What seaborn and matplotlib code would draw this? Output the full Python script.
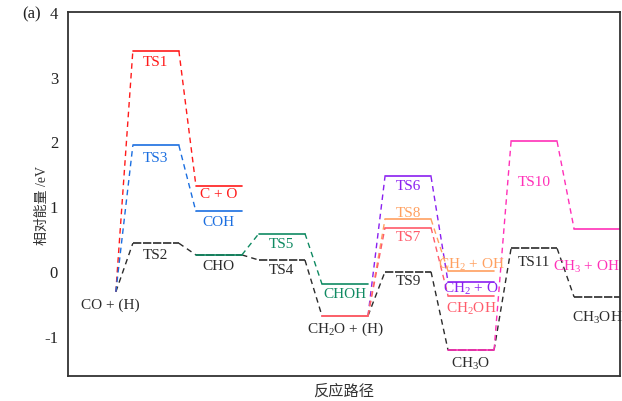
import pandas as pd
import matplotlib
matplotlib.use("Agg")
import matplotlib.pyplot as plt
import seaborn as sns

# ---------------- datos ----------------
# estados: nombre, paso de reacción (posición en el eje x), energía relativa (eV)
estados = ["CO + (H)", "TS1", "TS2", "TS3", "C + O", "COH", "CHO", "TS4", "TS5",
           "CHOH", "CH$_2$O + (H)", "TS6", "TS7", "TS8", "TS9",
           "CH$_2$ + OH", "CH$_2$ + O", "CH$_2$OH", "CH$_3$O",
           "TS10", "TS11", "CH$_3$ + OH", "CH$_3$OH"]
pasos = [0, 1, 1, 1, 2, 2, 2, 3, 3,
         4, 4, 5, 5, 5, 5,
         6, 6, 6, 6,
         7, 7, 8, 8]
energias = [-0.32, 3.40, 0.43, 1.94, 1.32, 0.92, 0.25, 0.17, 0.58,
            -0.20, -0.69, 1.46, 0.67, 0.80, -0.01,
            0.00, -0.17, -0.38, -1.22,
            2.00, 0.35, 0.65, -0.40]

# rutas de reacción
ruta_negra = ["CO + (H)", "TS2", "CHO", "TS4", "CH$_2$O + (H)", "TS9", "CH$_3$O", "TS11", "CH$_3$OH"]
ruta_roja = ["CO + (H)", "TS1", "C + O"]
ruta_azul = ["CO + (H)", "TS3", "COH"]
ruta_verde = ["CHO", "TS5", "CHOH"]
ruta_morada = ["CH$_2$O + (H)", "TS6", "CH$_2$ + O"]
ruta_naranja = ["CH$_2$O + (H)", "TS8", "CH$_2$ + OH"]
ruta_rosa = ["CH$_2$O + (H)", "TS7", "CH$_2$OH"]
ruta_magenta = ["CH$_3$O", "TS10", "CH$_3$ + OH"]

# ---------------- estilo ----------------
sns.set_style("white")
plt.rcParams['font.family'] = ['Liberation Serif', 'Noto Sans CJK SC']
plt.rcParams['mathtext.fontset'] = 'custom'
plt.rcParams['mathtext.rm'] = 'Liberation Serif'
plt.rcParams['mathtext.it'] = 'Liberation Serif:italic'
plt.rcParams['axes.unicode_minus'] = False

df = pd.DataFrame({"estado": estados, "paso": pasos, "E": energias}).set_index("estado")

rutas = [
    (ruta_negra, "#2b2b2b", True),
    (ruta_roja, "#ff1a1a", False),
    (ruta_azul, "#1a6ee0", False),
    (ruta_verde, "#0f8a62", False),
    (ruta_morada, "#8a1ff0", False),
    (ruta_naranja, "#ffa060", False),
    (ruta_rosa, "#ff5a6a", False),
    (ruta_magenta, "#ff30b8", False),
]

w = 0.365  # medio ancho del nivel


def extremos(nombre):
    p = df.loc[nombre, "paso"]
    if p == 0:
        return p + w, p + w
    return p - w, p + w


fig, ax = plt.subplots(figsize=(6.22, 4.02), dpi=100)
fig.subplots_adjust(left=0.109, right=0.997, top=0.968, bottom=0.062)

for ruta, color, negra in rutas:
    # conectores discontinuos
    for a, b in zip(ruta[:-1], ruta[1:]):
        seg = pd.DataFrame({"x": [extremos(a)[1], extremos(b)[0]],
                            "y": [df.loc[a, "E"], df.loc[b, "E"]]})
        sns.lineplot(data=seg, x="x", y="y", color=color, lw=1.0,
                     linestyle=(0, (4, 3)), estimator=None, sort=False, ax=ax)
    # niveles
    for n in ruta:
        x0, x1 = extremos(n)
        if x0 == x1:
            continue
        niv = pd.DataFrame({"x": [x0, x1], "y": [df.loc[n, "E"]] * 2})
        ls = (0, (5, 1)) if negra else "-"
        sns.lineplot(data=niv, x="x", y="y", color=color, lw=1.2,
                     linestyle=ls, estimator=None, sort=False, ax=ax)

# etiquetas (posición x, y en eV, color)
etiquetas = {
    "CO + (H)": (0.28, -0.51, "#2b2b2b"),
    "TS1": (1, 3.23, "#ff1a1a"),
    "TS3": (1, 1.75, "#1a6ee0"),
    "TS2": (1, 0.25, "#2b2b2b"),
    "C + O": (2, 1.20, "#ff1a1a"),
    "COH": (2, 0.77, "#1a6ee0"),
    "CHO": (2, 0.09, "#2b2b2b"),
    "TS5": (3, 0.43, "#0f8a62"),
    "TS4": (3, 0.03, "#2b2b2b"),
    "CHOH": (4, -0.35, "#0f8a62"),
    "CH$_2$O + (H)": (4, -0.89, "#2b2b2b"),
    "TS6": (5, 1.32, "#8a1ff0"),
    "TS8": (5, 0.91, "#ffa060"),
    "TS7": (5, 0.54, "#ff5a6a"),
    "TS9": (5, -0.15, "#2b2b2b"),
    "CH$_2$ + OH": (6, 0.11, "#ffa060"),
    "CH$_2$ + O": (6, -0.26, "#8a1ff0"),
    "CH$_2$OH": (6, -0.57, "#ff5a6a"),
    "CH$_3$O": (6, -1.42, "#2b2b2b"),
    "TS10": (7, 1.38, "#ff30b8"),
    "TS11": (7, 0.15, "#2b2b2b"),
    "CH$_3$OH": (8, -0.71, "#2b2b2b"),
}
for txt, (x, y, c) in etiquetas.items():
    ax.text(x, y, txt, color=c, fontsize=11, ha="center", va="center")
# la etiqueta del borde derecho se alinea a la derecha
ax.text(8.36, 0.08, "CH$_3$ + OH", color="#ff30b8", fontsize=11, ha="right", va="center")

ax.set_xlim(-0.397, 8.365)
ax.set_ylim(-1.62, 4)
ax.set_yticks([-1, 0, 1, 2, 3, 4])
ax.set_yticklabels(["-1", "0", "1", "2", "3", "4"])
ax.set_xticks([])
ax.tick_params(axis="y", direction="in", length=4, labelsize=12, pad=7,
               colors="#333333", labelcolor="#222222")
for s in ax.spines.values():
    s.set_color("#333333")
    s.set_linewidth(1.3)
ax.set_xlabel("反应路径", fontsize=11, color="#333333", labelpad=5)
ax.set_ylabel("相对能量 /eV", fontsize=10, color="#333333")
ax.yaxis.set_label_coords(-0.035, 0.47)
fig.text(0.035, 0.963, "(a)", fontsize=12, ha="left", va="center", color="#222222")

fig.savefig("out.png", dpi=100)
